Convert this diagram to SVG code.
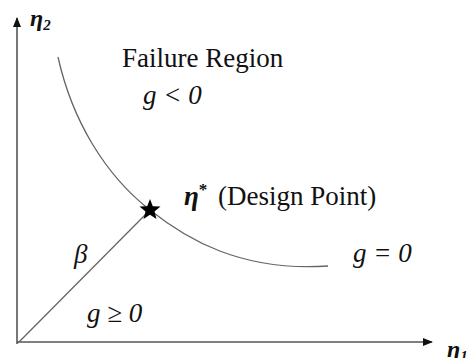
<svg xmlns="http://www.w3.org/2000/svg" width="468" height="358" viewBox="0 0 468 358">
<style>
.ax{stroke:#555;stroke-width:1.6;fill:none}
.cv{stroke:#666;stroke-width:1.3;fill:none}
</style>
<defs>
<marker id="ah" markerWidth="10" markerHeight="8" refX="9" refY="4" orient="auto" markerUnits="userSpaceOnUse">
<path d="M0,0 L10,4 L0,8 Z" fill="#111"/>
</marker>
</defs>
<g id="connectors">
<line class="ax" x1="17" y1="344" x2="17" y2="18" marker-end="url(#ah)"/>
<line class="ax" x1="17" y1="342" x2="432" y2="342" marker-end="url(#ah)"/>
<line class="cv" x1="18" y1="343" x2="147" y2="213"/>
<path class="cv" d="M58,57 C72,120 105,175 150,210 C185,238 240,272 328,266"/>
</g>
<g id="star"><path d="M150,199 L152.8,206.2 L160.5,206.6 L154.5,211.4 L156.5,218.9 L150,214.7 L143.5,218.9 L145.5,211.4 L139.5,206.6 L147.2,206.2 Z" fill="#000"/></g>
<g id="labels" font-family="'Liberation Serif', 'Times New Roman', serif" font-size="27" fill="#111">
<text font-style="italic" font-weight="bold" font-size="24" x="30" y="26">η<tspan font-size="15" dy="4">2</tspan></text>
<text font-style="italic" font-weight="bold" font-size="24" x="447" y="357">η<tspan font-size="15" dy="4">1</tspan></text>
<text x="122" y="67">Failure Region</text>
<text font-style="italic" x="143" y="104">g &lt; 0</text>
<text x="184" y="205"><tspan font-style="italic" font-weight="bold">η</tspan><tspan font-size="17" dy="-10" font-weight="bold">*</tspan><tspan x="218" dy="10">(Design Point)</tspan></text>
<text font-style="italic" x="353" y="262">g = 0</text>
<text font-style="italic" x="74" y="263">β</text>
<text font-style="italic" x="87" y="322">g ≥ 0</text>
</g>
</svg>
